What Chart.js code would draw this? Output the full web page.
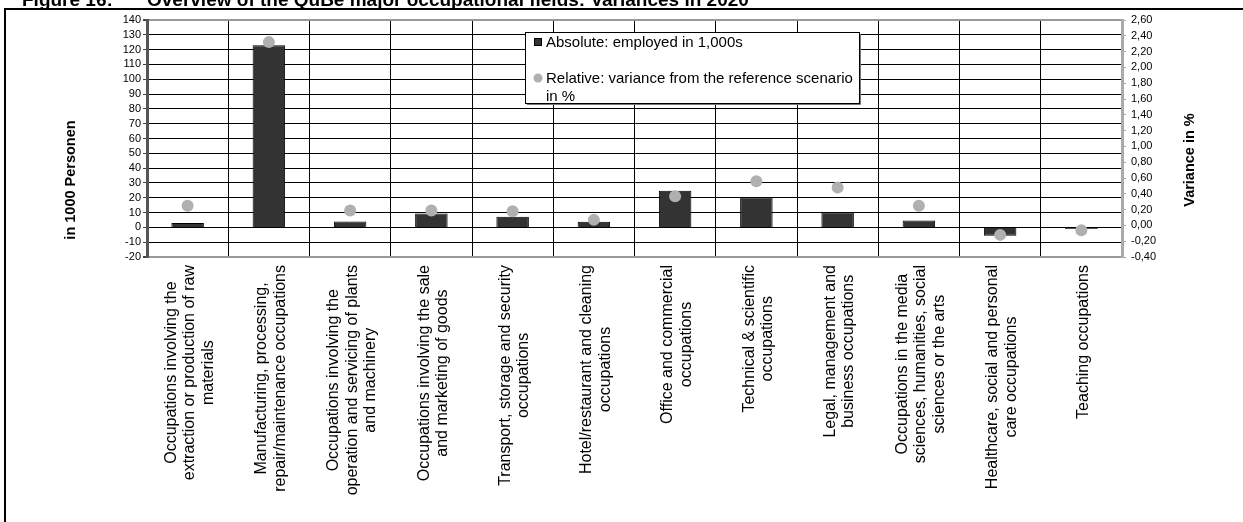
<!DOCTYPE html>
<html>
<head>
<meta charset="utf-8">
<script src="https://cdn.jsdelivr.net/npm/chart.js@4.4.1/dist/chart.umd.min.js"></script>
<style>
  html, body { margin: 0; padding: 0; background: #fff; }
  #wrap { width: 1243px; height: 522px; position: relative; }
</style>
</head>
<body>
<div id="wrap"><canvas id="chart" width="1243" height="522"></canvas></div>
<script>
// Occupational fields (each entry is one multi-line category label)
const categories = [
  ["Occupations involving the", "extraction or production of raw", "materials"],
  ["Manufacturing, processing,", "repair/maintenance occupations"],
  ["Occupations involving the", "operation and servicing of plants", "and machinery"],
  ["Occupations involving the sale", "and marketing of goods"],
  ["Transport, storage and security", "occupations"],
  ["Hotel/restaurant and cleaning", "occupations"],
  ["Office and commercial", "occupations"],
  ["Technical & scientific", "occupations"],
  ["Legal, management and", "business occupations"],
  ["Occupations in the media", "sciences, humanities, social", "sciences or the arts"],
  ["Healthcare, social and personal", "care occupations"],
  ["Teaching occupations"]
];

// Absolute variance, employed persons in 1,000s (bars, left axis)
const absoluteValues = [3.0, 123.0, 4.0, 9.4, 7.2, 3.8, 24.7, 20.2, 10.2, 4.7, -5.6, -1.1];

// Relative variance from the reference scenario in % (dots, right axis)
const relativeValues = [0.25, 2.32, 0.19, 0.19, 0.18, 0.07, 0.37, 0.56, 0.48, 0.25, -0.12, -0.06];

// Axis ranges and tick steps
const leftAxisRange = [-20, 140];
const leftAxisStep = 10;
const rightAxisRange = [-0.4, 2.6];
const rightAxisStep = 0.2;

// Texts
const figureNumber = "Figure 16:";
const figureTitle = "Overview of the QuBe major occupational fields: Variances in 2020";
const seriesNames = ["Absolute: employed in 1,000s", ["Relative: variance from the reference scenario", "in %"]];
const leftAxisTitle = "in 1000 Personen";
const rightAxisTitle = "Variance in %";

const FONT = "'Liberation Sans', Arial, Helvetica, sans-serif";
Chart.defaults.font.family = FONT;
Chart.defaults.color = '#000';

const BAR_FILL = '#333333';
const DOT_FILL = '#b0b0b0';

// Frame, title, axis titles, rotated category labels and the legend box
const decorations = {
  id: 'decorations',
  afterDraw(chart) {
    const { ctx, scales } = chart;
    ctx.save();

    // outer frame (left and top edges)
    ctx.strokeStyle = '#000';
    ctx.lineWidth = 2;
    ctx.beginPath();
    ctx.moveTo(5, 522);
    ctx.lineTo(5, 9);
    ctx.lineTo(1243, 9);
    ctx.stroke();

    // figure title
    ctx.fillStyle = '#000';
    ctx.font = `bold 19px ${FONT}`;
    ctx.textAlign = 'left';
    ctx.textBaseline = 'alphabetic';
    ctx.fillText(figureNumber, 22, 6);
    ctx.fillText(figureTitle, 147, 6);

    // axis titles, both reading bottom to top
    ctx.font = `bold 14.5px ${FONT}`;
    ctx.textAlign = 'center';
    ctx.textBaseline = 'middle';
    [[leftAxisTitle, 71, 180], [rightAxisTitle, 1190, 160]].forEach(([t, x, y]) => {
      ctx.save();
      ctx.translate(x, y);
      ctx.rotate(-Math.PI / 2);
      ctx.fillText(t, 0, 0);
      ctx.restore();
    });

    // category labels: rotated, lines centred on each other, block ending near the axis
    const xs = scales.x;
    ctx.font = `16px ${FONT}`;
    const lineStep = 18.5;
    categories.forEach((lines, i) => {
      const cx = xs.getPixelForValue(i) + 2;
      const w = Math.max(...lines.map(l => ctx.measureText(l).width));
      const n = lines.length;
      ctx.save();
      ctx.translate(cx, 265);
      ctx.rotate(-Math.PI / 2);
      ctx.textAlign = 'center';
      ctx.textBaseline = 'middle';
      lines.forEach((l, k) => ctx.fillText(l, -w / 2, (k - (n - 1) / 2) * lineStep));
      ctx.restore();
    });

    // legend box
    const lx = 525, ly = 32, lw = 334, lh = 71;
    ctx.fillStyle = '#fff';
    ctx.fillRect(lx, ly, lw, lh);
    ctx.strokeStyle = '#000';
    ctx.lineWidth = 1;
    ctx.strokeRect(lx + 0.5, ly + 0.5, lw, lh);
    ctx.strokeStyle = '#777';
    ctx.beginPath();
    ctx.moveTo(lx + 2, ly + lh + 1.5);
    ctx.lineTo(lx + lw + 1.5, ly + lh + 1.5);
    ctx.lineTo(lx + lw + 1.5, ly + 2);
    ctx.stroke();

    const barDs = chart.data.datasets[0];
    const dotDs = chart.data.datasets[1];
    ctx.fillStyle = barDs.backgroundColor;
    ctx.fillRect(534, 38, 8, 8);
    ctx.strokeStyle = '#000';
    ctx.strokeRect(534.5, 38.5, 7, 7);
    ctx.fillStyle = dotDs.pointBackgroundColor;
    ctx.beginPath();
    ctx.arc(538, 78, 4.5, 0, Math.PI * 2);
    ctx.fill();

    ctx.fillStyle = '#000';
    ctx.font = `15px ${FONT}`;
    ctx.textAlign = 'left';
    ctx.textBaseline = 'middle';
    ctx.fillText(seriesNames[0], 546, 43);
    ctx.fillText(seriesNames[1][0], 546, 79);
    ctx.fillText(seriesNames[1][1], 546, 97);

    ctx.restore();
  }
};

const edgeTick = v => v === leftAxisRange[0] || v === leftAxisRange[1];

new Chart(document.getElementById('chart'), {
  data: {
    labels: categories,
    datasets: [
      {
        type: 'bar',
        label: seriesNames[0],
        data: absoluteValues,
        yAxisID: 'y',
        backgroundColor: BAR_FILL,
        borderColor: '#000',
        borderWidth: 1,
        categoryPercentage: 1,
        barPercentage: 0.4,
        order: 2
      },
      {
        type: 'line',
        label: seriesNames[1].join(' '),
        data: relativeValues,
        yAxisID: 'y1',
        showLine: false,
        pointRadius: 6,
        pointHoverRadius: 6,
        pointBackgroundColor: DOT_FILL,
        pointBorderColor: DOT_FILL,
        pointBorderWidth: 0,
        order: 1
      }
    ]
  },
  options: {
    responsive: false,
    animation: false,
    events: [],
    layout: { padding: { top: 20, left: 0, right: 0, bottom: 0 } },
    plugins: { legend: { display: false }, tooltip: { enabled: false }, title: { display: false } },
    scales: {
      x: {
        type: 'category',
        offset: true,
        grid: { offset: true, color: '#000', lineWidth: 1, drawTicks: false },
        border: { color: '#999', width: 2 },
        ticks: { display: false },
        afterFit(s) { s.height = 265; }
      },
      y: {
        position: 'left',
        min: leftAxisRange[0],
        max: leftAxisRange[1],
        ticks: { stepSize: leftAxisStep, autoSkip: false, font: { size: 11 }, color: '#000', padding: 2 },
        grid: {
          color: c => (c.tick && edgeTick(c.tick.value)) ? '#999' : '#000',
          lineWidth: c => (c.tick && edgeTick(c.tick.value)) ? 2 : 1,
          tickLength: 4,
          tickColor: '#444'
        },
        border: { color: '#555', width: 3 },
        afterFit(s) { s.width = 147; }
      },
      y1: {
        position: 'right',
        min: rightAxisRange[0],
        max: rightAxisRange[1],
        ticks: {
          stepSize: rightAxisStep,
          autoSkip: false,
          font: { size: 11 },
          color: '#000',
          padding: 5,
          callback: v => {
            const n = Math.abs(v) < 1e-9 ? 0 : v;
            return n.toFixed(2).replace('.', ',');
          }
        },
        grid: { drawOnChartArea: false, tickLength: 4, tickColor: '#aaa' },
        border: { color: '#aaa', width: 3 },
        afterFit(s) { s.width = 121; }
      }
    }
  },
  plugins: [decorations]
});
</script>
</body>
</html>
